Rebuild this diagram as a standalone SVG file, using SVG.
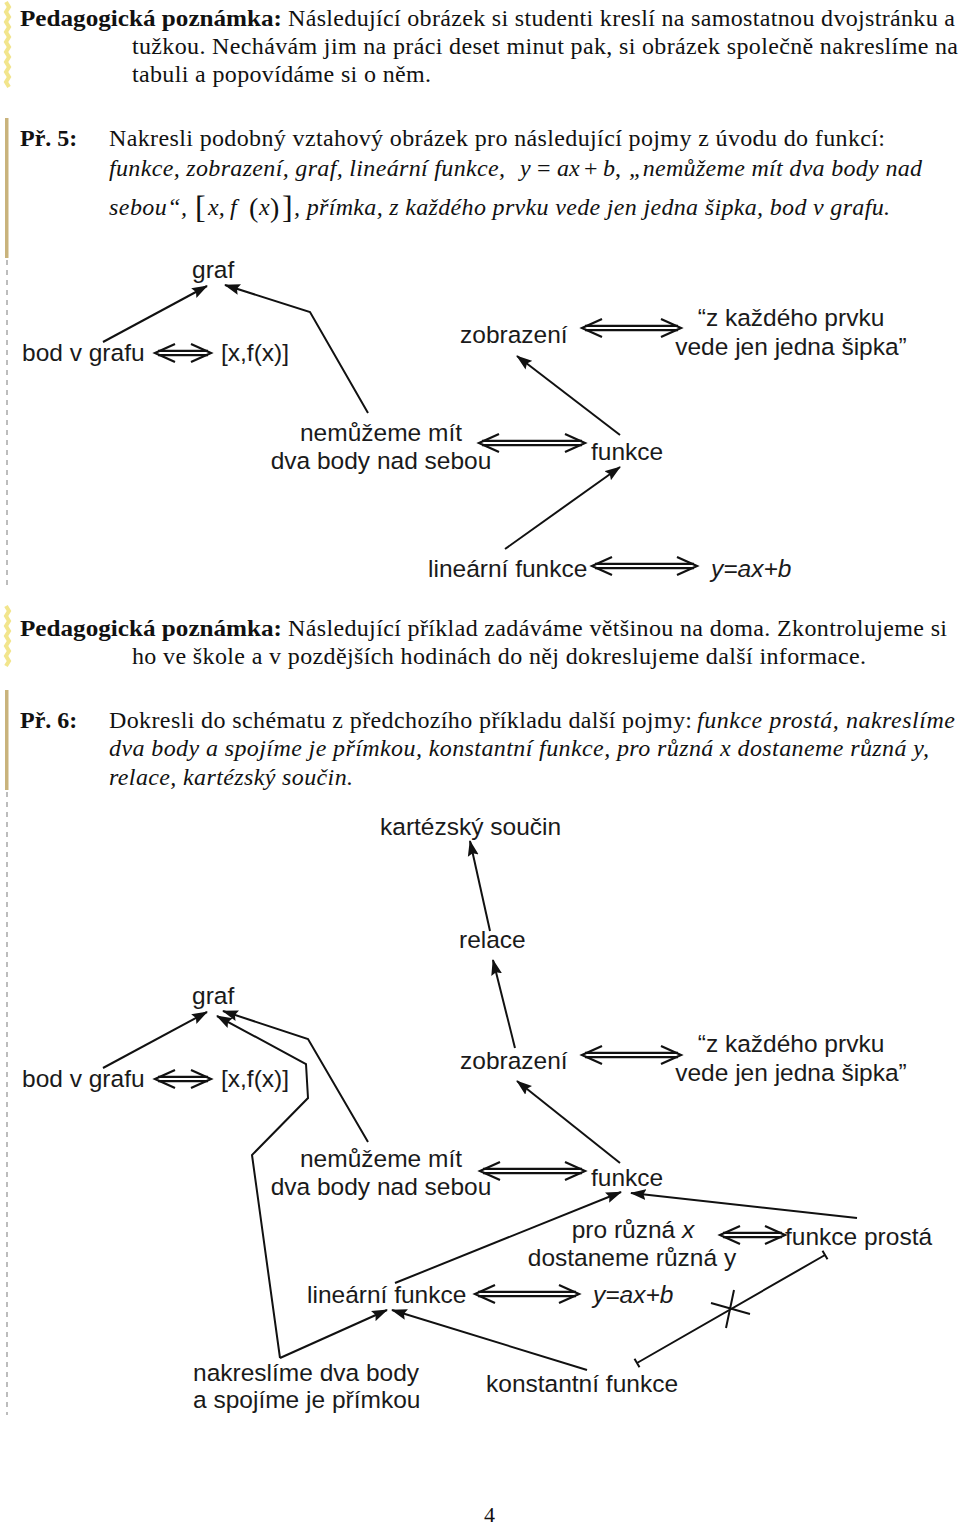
<svg xmlns="http://www.w3.org/2000/svg" width="960" height="1525" viewBox="0 0 960 1525">
<defs>
<style>
.t{font-family:"Liberation Serif","Times New Roman",serif;font-size:24px;fill:#111}
.b{font-weight:bold}
.i{font-style:italic}
.l{font-family:"Liberation Sans",Arial,sans-serif;font-size:24.5px;fill:#1a1a1a}
.m{text-anchor:middle}
.c{fill:none;stroke:#111;stroke-width:2}
.ca{fill:none;stroke:#111;stroke-width:2;marker-end:url(#ah)}
.dbl{fill:none;stroke:#111;stroke-width:2.3}
.ch{fill:none;stroke:#111;stroke-width:2.2;stroke-linejoin:miter}
.zig{fill:none;stroke:#f2e58c;stroke-width:4}
.bar{fill:#c9b37c}
.dash{stroke:#a8a8a8;stroke-width:1.5;stroke-dasharray:5 5}
</style>
<marker id="ah" viewBox="0 0 16 12" markerWidth="16" markerHeight="12" refX="15" refY="6" orient="auto" markerUnits="userSpaceOnUse">
<path d="M0,0.5 L16,6 L0,11.5 L2.5,6 z" fill="#111"/>
</marker>
</defs>
<rect width="960" height="1525" fill="#fff"/>

<g id="margin">
<path class="zig" d="M6,2 l3,5 l-3,5 l3,5 l-3,5 l3,5 l-3,5 l3,5 l-3,5 l3,5 l-3,5 l3,5 l-3,5 l3,5 l-3,5 l3,5 l-3,5 l3,5"/>
<rect class="bar" x="5" y="118" width="3.5" height="140"/>
<line class="dash" x1="7" y1="260" x2="7" y2="585"/>
<path class="zig" d="M6,606 l3,5 l-3,5 l3,5 l-3,5 l3,5 l-3,5 l3,5 l-3,5 l3,5 l-3,5 l3,5 l-3,5"/>
<rect class="bar" x="5" y="690" width="3.5" height="100"/>
<line class="dash" x1="7" y1="792" x2="7" y2="1415"/>
</g>

<g id="text1">
<text class="t b" x="20" y="26" textLength="262" lengthAdjust="spacingAndGlyphs">Pedagogická poznámka:</text>
<text class="t" x="288" y="26" textLength="667" lengthAdjust="spacing">Následující obrázek si studenti kreslí na samostatnou dvojstránku a</text>
<text class="t" x="132" y="54" textLength="826" lengthAdjust="spacing">tužkou. Nechávám jim na práci deset minut pak, si obrázek společně nakreslíme na</text>
<text class="t" x="132" y="82" textLength="299" lengthAdjust="spacing">tabuli a popovídáme si o něm.</text>

<text class="t b" x="20" y="146">Př. 5:</text>
<text class="t" x="109" y="146" textLength="776" lengthAdjust="spacing">Nakresli podobný vztahový obrázek pro následující pojmy z úvodu do funkcí:</text>
<text class="t i" x="109" y="176" textLength="396" lengthAdjust="spacing">funkce, zobrazení, graf, lineární funkce,</text>
<text class="t i" x="520" y="176">y</text>
<text class="t" x="537" y="176">=</text>
<text class="t i" x="557" y="176">ax</text>
<text class="t" x="584" y="176">+</text>
<text class="t i" x="603" y="176">b</text>
<text class="t" x="615" y="176">,</text>
<text class="t i" x="629" y="176" textLength="293" lengthAdjust="spacing">„nemůžeme mít dva body nad</text>
<text class="t i" x="109" y="215" textLength="78" lengthAdjust="spacing">sebou“,</text>
<text class="t" x="195" y="218" style="font-size:32px">[</text>
<text class="t i" x="208" y="215">x,</text>
<text class="t i" x="230" y="215">f</text>
<text class="t" x="249" y="217" style="font-size:28px">(</text>
<text class="t i" x="259" y="215">x</text>
<text class="t" x="270" y="217" style="font-size:28px">)</text>
<text class="t" x="282" y="218" style="font-size:32px">]</text>
<text class="t i" x="294" y="215" textLength="596" lengthAdjust="spacing">, přímka, z každého prvku vede jen jedna šipka, bod v grafu.</text>

<text class="t b" x="20" y="636" textLength="262" lengthAdjust="spacingAndGlyphs">Pedagogická poznámka:</text>
<text class="t" x="288" y="636" textLength="659" lengthAdjust="spacing">Následující příklad zadáváme většinou na doma. Zkontrolujeme si</text>
<text class="t" x="132" y="664" textLength="734" lengthAdjust="spacing">ho ve škole a v pozdějších hodinách do něj dokreslujeme další informace.</text>

<text class="t b" x="20" y="728">Př. 6:</text>
<text class="t" x="109" y="728" textLength="583" lengthAdjust="spacing">Dokresli do schématu z předchozího příkladu další pojmy:</text>
<text class="t i" x="697" y="728" textLength="258" lengthAdjust="spacing">funkce prostá, nakreslíme</text>
<text class="t i" x="109" y="756" textLength="820" lengthAdjust="spacing">dva body a spojíme je přímkou, konstantní funkce, pro různá x dostaneme různá y,</text>
<text class="t i" x="109" y="785" textLength="244" lengthAdjust="spacing">relace, kartézský součin.</text>

<text class="t" x="484" y="1522" style="font-size:22px">4</text>
</g>

<g id="connectors">
<!-- diagram 1 -->
<path class="ca" d="M103,342 L207,286"/>
<path class="ca" d="M368,413 L310,312 L225,285"/>
<path class="ca" d="M620,435 L517,356"/>
<path class="ca" d="M505,549 L620,467"/>
<!-- diagram 2 -->
<path class="ca" d="M490,931 L470,841"/>
<path class="ca" d="M515,1048 L493,960"/>
<path class="ca" d="M103,1068 L207,1012"/>
<path class="ca" d="M368,1142 L308,1039 L223,1011"/>
<path class="ca" d="M280,1358 L252,1155 L308,1098 L306,1064 L217,1016"/>
<path class="ca" d="M280,1358 L387,1310"/>
<path class="ca" d="M587,1370 L392,1310"/>
<path class="ca" d="M620,1163 L517,1081"/>
<path class="ca" d="M395,1283 L621,1192"/>
<path class="ca" d="M857,1218 L631,1193"/>
<path class="c" d="M637,1363 L825,1255 M634.5,1358.7 L639.5,1367.3 M822.5,1250.7 L827.5,1259.3"/>
<path class="c" d="M711,1303 L750,1314 M734,1290 L726,1328"/>
<!-- double arrows -->
<g id="dblarrows">
<path class="dbl" d="M158,350.8 H208 M158,355.2 H208"/><path class="ch" d="M175,344 L155,353 L175,362 M191,344 L211,353 L191,362"/>
<path class="dbl" d="M585,325.8 H678 M585,330.2 H678"/><path class="ch" d="M602,319 L582,328 L602,337 M661,319 L681,328 L661,337"/>
<path class="dbl" d="M482,440.8 H582 M482,445.2 H582"/><path class="ch" d="M499,434 L479,443 L499,452 M565,434 L585,443 L565,452"/>
<path class="dbl" d="M595,563.8 H694 M595,568.2 H694"/><path class="ch" d="M612,557 L592,566 L612,575 M677,557 L697,566 L677,575"/>

<path class="dbl" d="M158,1076.8 H208 M158,1081.2 H208"/><path class="ch" d="M175,1070 L155,1079 L175,1088 M191,1070 L211,1079 L191,1088"/>
<path class="dbl" d="M585,1052.8 H678 M585,1057.2 H678"/><path class="ch" d="M602,1046 L582,1055 L602,1064 M661,1046 L681,1055 L661,1064"/>
<path class="dbl" d="M483,1168.8 H582 M483,1173.2 H582"/><path class="ch" d="M500,1162 L480,1171 L500,1180 M565,1162 L585,1171 L565,1180"/>
<path class="dbl" d="M723,1232.8 H782 M723,1237.2 H782"/><path class="ch" d="M740,1226 L720,1235 L740,1244 M765,1226 L785,1235 L765,1244"/>
<path class="dbl" d="M478,1291.8 H576 M478,1296.2 H576"/><path class="ch" d="M495,1285 L475,1294 L495,1303 M559,1285 L579,1294 L559,1303"/>
</g>
</g>

<g id="diagram1">
<g id="n1-graf"><text class="l" x="192" y="278">graf</text></g>
<g id="n1-bod"><text class="l" x="22" y="361">bod v grafu</text></g>
<g id="n1-xfx"><text class="l" x="221" y="361">[x,f(x)]</text></g>
<g id="n1-zobrazeni"><text class="l" x="460" y="343">zobrazení</text></g>
<g id="n1-sipka"><text class="l m" x="791" y="326">“z každého prvku</text><text class="l m" x="791" y="355">vede jen jedna šipka”</text></g>
<g id="n1-nemuzeme"><text class="l m" x="381" y="441">nemůžeme mít</text><text class="l m" x="381" y="469">dva body nad sebou</text></g>
<g id="n1-funkce"><text class="l" x="591" y="460">funkce</text></g>
<g id="n1-linearni"><text class="l" x="428" y="577">lineární funkce</text></g>
<g id="n1-rovnice"><text class="l i" x="711" y="577">y=ax+b</text></g>
</g>

<g id="diagram2">
<g id="n2-kartez"><text class="l" x="380" y="835">kartézský součin</text></g>
<g id="n2-relace"><text class="l" x="459" y="948">relace</text></g>
<g id="n2-graf"><text class="l" x="192" y="1004">graf</text></g>
<g id="n2-bod"><text class="l" x="22" y="1087">bod v grafu</text></g>
<g id="n2-xfx"><text class="l" x="221" y="1087">[x,f(x)]</text></g>
<g id="n2-zobrazeni"><text class="l" x="460" y="1069">zobrazení</text></g>
<g id="n2-sipka"><text class="l m" x="791" y="1052">“z každého prvku</text><text class="l m" x="791" y="1081">vede jen jedna šipka”</text></g>
<g id="n2-nemuzeme"><text class="l m" x="381" y="1167">nemůžeme mít</text><text class="l m" x="381" y="1195">dva body nad sebou</text></g>
<g id="n2-funkce"><text class="l" x="591" y="1186">funkce</text></g>
<g id="n2-ruzna"><text class="l m" x="633" y="1238">pro různá <tspan class="i">x</tspan></text><text class="l m" x="632" y="1266">dostaneme různá y</text></g>
<g id="n2-prosta"><text class="l" x="785" y="1245">funkce prostá</text></g>
<g id="n2-linearni"><text class="l" x="307" y="1303">lineární funkce</text></g>
<g id="n2-rovnice"><text class="l i" x="593" y="1303">y=ax+b</text></g>
<g id="n2-nakreslime"><text class="l" x="193" y="1381">nakreslíme dva body</text><text class="l" x="193" y="1408">a spojíme je přímkou</text></g>
<g id="n2-konstantni"><text class="l" x="486" y="1392">konstantní funkce</text></g>
</g>
</svg>
